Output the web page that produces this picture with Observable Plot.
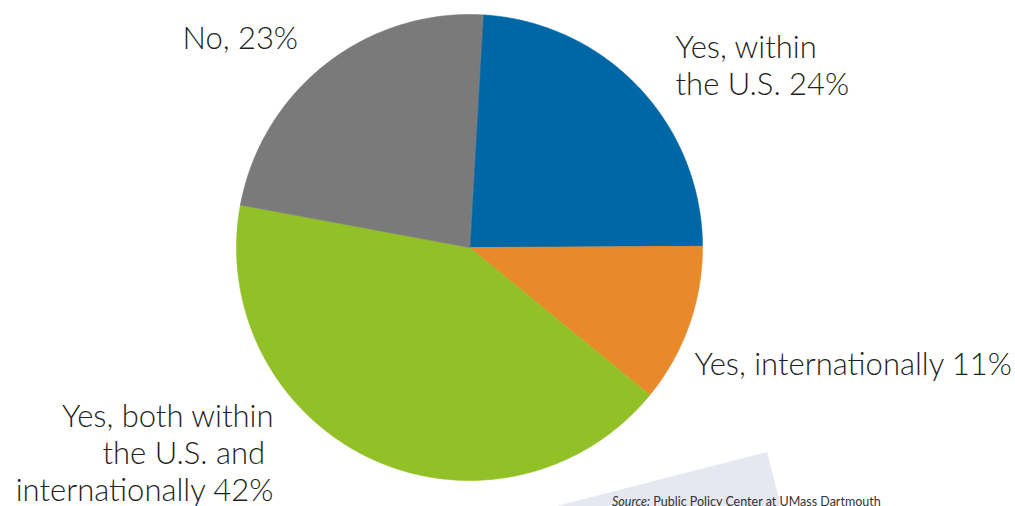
<!DOCTYPE html>
<html>
<head>
<meta charset="utf-8">
<script src="https://cdn.jsdelivr.net/npm/d3@7"></script>
<script src="https://cdn.jsdelivr.net/npm/@observablehq/plot@0.6"></script>
<style>
  html, body { margin: 0; padding: 0; background: #fff; overflow: hidden; }
  #wrap { position: relative; width: 1015px; height: 506px; overflow: hidden; }
</style>
</head>
<body>
<div id="wrap"></div>
<script>
// ---- data ----
const categories = ["Yes, within the U.S.", "Yes, internationally", "Yes, both within the U.S. and internationally", "No"];
const values = [24, 11, 42, 23];
const labels = ["Yes, within\nthe U.S. 24%", "Yes, internationally 11%", "Yes, both within\nthe U.S. and\u00a0\ninternationally 42%", "No, 23%"];
const colors = ["#0067a6", "#e8892a", "#92c127", "#7a7a7b"];
const sourceLabel = "Source:";
const sourceText = " Public Policy Center at UMass Dartmouth";

// ---- layout (pixels) ----
const W = 1015, H = 506;
const cx = 469, cy = 247, R = 233;
const startDeg = 3.3;
const labelLayout = [
  {x: 675, y: 94, anchor: "start"},
  {x: 694, y: 374, anchor: "start"},
  {x: 273, y: 500, anchor: "end"},
  {x: 182, y: 48, anchor: "start"}
];
const font = "Lato, 'Open Sans', sans-serif";
const fontSize = 31;

// ---- geometry from data ----
const rows = categories.map((c, i) => ({category: c, value: values[i], label: labels[i], i}));
const start = startDeg * Math.PI / 180;
const arcs = d3.pie().sort(null).value(d => d.value).startAngle(start).endAngle(start + 2 * Math.PI)(rows);
const pts = arcs.flatMap(a => {
  const n = Math.max(2, Math.ceil((a.endAngle - a.startAngle) / (Math.PI / 360)));
  const p = [{category: a.data.category, x: 0, y: 0}];
  for (let k = 0; k <= n; k++) {
    const t = a.startAngle + (a.endAngle - a.startAngle) * k / n;
    p.push({category: a.data.category, x: Math.sin(t), y: Math.cos(t)});
  }
  return p;
});

const textMark = (i) => Plot.text([rows[i]], {
  text: "label",
  frameAnchor: "top-left",
  dx: labelLayout[i].x,
  dy: labelLayout[i].y,
  textAnchor: labelLayout[i].anchor,
  lineAnchor: "bottom",
  lineHeight: 37 / fontSize,
  fontSize: fontSize,
  fontWeight: 300,
  fill: "#231f20"
});

const chart = Plot.plot({
  width: W,
  height: H,
  margin: 0,
  style: {background: "transparent", fontFamily: font, overflow: "visible"},
  x: {domain: [-1, 1], range: [cx - R, cx + R], axis: null},
  y: {domain: [-1, 1], range: [cy + R, cy - R], axis: null},
  color: {domain: categories, range: colors},
  marks: [
    Plot.line(pts, {x: "x", y: "y", z: "category", fill: "category", stroke: "category", strokeWidth: 0.6, curve: "linear-closed"}),
    ...rows.map((r, i) => textMark(i))
  ]
});

document.getElementById("wrap").appendChild(chart);

// ---- source note with its tilted background panel ----
const svg = d3.select(chart);
const ang = 14.4 * Math.PI / 180, L = 700;
const px = 767, py = 452;
const poly = [
  [px, py],
  [px - L * Math.cos(ang), py + L * Math.sin(ang)],
  [px - L * Math.cos(ang) + L * Math.sin(ang), py + L * Math.sin(ang) + L * Math.cos(ang)],
  [px + L * Math.sin(ang), py + L * Math.cos(ang)]
];
svg.insert("polygon", ":first-child").attr("points", poly.map(p => p.join(",")).join(" ")).attr("fill", "#e6e8f1");
const st = svg.append("text")
  .attr("x", 612).attr("y", 506)
  .attr("text-anchor", "start")
  .attr("font-size", 12.5).attr("fill", "#333").attr("font-family", font);
st.append("tspan").attr("font-style", "italic").text(sourceLabel);
st.append("tspan").text(sourceText);
</script>
</body>
</html>
